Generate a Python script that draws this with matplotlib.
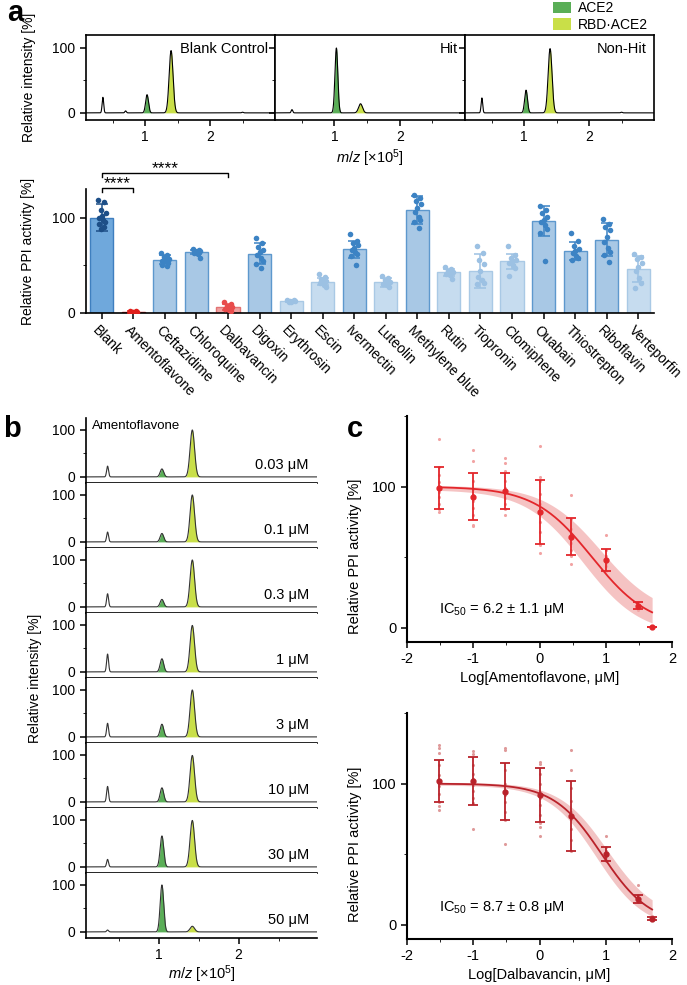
import numpy as np
import matplotlib
matplotlib.use('Agg')
import matplotlib.pyplot as plt
from matplotlib.ticker import MultipleLocator, FixedLocator
from matplotlib.patches import Patch
from matplotlib.transforms import ScaledTranslation

plt.rcParams['font.family'] = ['Liberation Sans', 'DejaVu Sans']
plt.rcParams['font.size'] = 10
plt.rcParams['mathtext.fontset'] = 'custom'
plt.rcParams['mathtext.rm'] = 'Liberation Sans'
plt.rcParams['mathtext.it'] = 'Liberation Sans:italic'
plt.rcParams['axes.unicode_minus'] = False
plt.rcParams['axes.linewidth'] = 1.2
plt.rcParams['xtick.major.size'] = 4
plt.rcParams['ytick.major.size'] = 4
plt.rcParams['xtick.minor.size'] = 2.5
plt.rcParams['ytick.minor.size'] = 2.5
plt.rcParams['xtick.major.width'] = 1.1
plt.rcParams['ytick.major.width'] = 1.1

# ---------------- data ----------------
# panel a (top): spectra peak heights
spec_titles = ['Blank Control', 'Hit', 'Non-Hit']
spec_minor_pos = [0.35, 0.70, 2.50]
spec_minor_h = [[24, 3, 1], [5, 0, 0], [23, 0, 1]]
spec_ace2_pos = 1.03
spec_ace2_h = [28, 100, 35]
spec_rbd_pos = 1.40
spec_rbd_h = [96, 14, 99]

# panel a (bottom): relative PPI activity
compounds = ['Blank', 'Amentoflavone', 'Ceftazidime', 'Chloroquine', 'Dalbavancin',
             'Digoxin', 'Erythrosin', 'Escin', 'Ivermectin', 'Luteolin', 'Methylene blue',
             'Rutin', 'Tiopronin', 'Clomiphene', 'Ouabain', 'Thiostrepton', 'Riboflavin',
             'Verteporfin']
ppi_mean = [100, 1, 56, 64, 6, 62, 13, 33, 67, 32, 108, 42.5, 44, 54, 96.5, 65, 77, 46]
ppi_sd = [14, 1, 5, 2, 3, 11, 1, 4, 9, 5, 15, 3.5, 18, 8, 16, 9, 17, 14]
ppi_reps = [
    [118, 116, 108, 105, 102, 100, 98, 95, 93, 90, 88],
    [2.5, 2, 1.5, 1, 1, 0.5, 0.5, 0.3],
    [63, 61, 59, 57, 56, 55, 54, 52, 50, 49],
    [67, 66, 65, 65, 64, 63, 62, 58],
    [12, 9, 7, 6, 5, 4, 3, 2],
    [79, 73, 69, 66, 64, 61, 58, 55, 51, 47],
    [14, 13.5, 13, 12.5, 12, 12],
    [41, 38, 36, 34, 33, 31, 29, 27],
    [83, 76, 73, 71, 68, 66, 64, 62, 60, 50],
    [39, 37, 35, 33, 32, 30, 29, 27],
    [124, 121, 117, 114, 110, 106, 101, 98, 95, 89],
    [48, 46, 44, 43, 42, 41, 40, 36],
    [70, 63, 56, 51, 44, 38, 35, 31, 30],
    [70, 61, 58, 56, 54, 52, 50, 47, 39],
    [112, 108, 105, 101, 98, 95, 92, 88, 84, 55],
    [84, 75, 70, 67, 65, 63, 60, 58, 56],
    [99, 93, 90, 87, 80, 74, 68, 64, 61, 53],
    [62, 59, 57, 52, 48, 44, 37, 31, 26],
]
ppi_group = ['blank', 'hit', 'mid', 'mid', 'hit2', 'mid', 'light', 'light', 'mid', 'light',
             'mid', 'light', 'light', 'light', 'mid', 'mid', 'mid', 'light']

# panel b: amentoflavone titration spectra
conc_labels = ['0.03 μM', '0.1 μM', '0.3 μM', '1 μM', '3 μM', '10 μM', '30 μM', '50 μM']
b_small_pos = 0.36
b_small_h = [23, 21, 28, 38, 29, 33, 16, 4]
b_ace2_pos = 1.04
b_ace2_h = [17, 18, 16, 28, 27, 30, 66, 100]
b_rbd_pos = 1.42
b_rbd_h = [100, 100, 100, 99, 100, 99, 99, 12]

# panel c: dose response
log_conc = [-1.52, -1.0, -0.52, 0.0, 0.48, 1.0, 1.48, 1.70]
amento_mean = [99, 93, 97, 82, 64.5, 48, 15.7, 0.7]
amento_sd = [15, 16.5, 13, 22.5, 13, 7.7, 2.3, 0]
amento_reps = [
    [134, 114, 108, 103, 99, 96, 93, 88, 84, 82],
    [126, 118, 104, 98, 94, 90, 85, 80, 73, 72],
    [120, 117, 111, 104, 99, 96, 92, 88, 84, 80],
    [129, 107, 104, 95, 88, 82, 75, 68, 59, 53],
    [94, 77, 70, 66, 63, 60, 55, 51, 45],
    [66, 55, 51, 48, 46, 44, 40],
    [18, 17, 16, 15, 14, 13],
    [1, 0.8, 0.6, 0.5, 0.5],
]
amento_fit = dict(top=100, bottom=0, ic50=6.2, hill=1.0)
amento_band = [dict(top=101, bottom=8, ic50=8.5, hill=1.0), dict(top=98, bottom=-5, ic50=4.5, hill=1.0)]

dalba_mean = [102, 101.7, 94.3, 92, 77, 50.4, 18.4, 4.3]
dalba_sd = [15, 17, 20, 19, 25, 5, 2.6, 1]
dalba_reps = [
    [127, 125, 122, 113, 106, 101, 98, 93, 87, 84, 81],
    [123, 121, 113, 107, 103, 99, 95, 90, 86, 68],
    [125, 124, 110, 100, 95, 92, 87, 80, 74, 57],
    [115, 114, 107, 100, 94, 90, 85, 78, 72, 69, 63],
    [124, 110, 97, 88, 80, 75, 68, 60, 52],
    [63, 55, 52, 50, 48, 46, 45],
    [28, 21, 19, 18, 17, 16],
    [6, 5, 4.5, 4, 3.5],
]
dalba_fit = dict(top=100, bottom=0, ic50=8.7, hill=1.2)
dalba_band = [dict(top=101, bottom=5, ic50=10.5, hill=1.2), dict(top=99, bottom=-3, ic50=7.2, hill=1.2)]

# ---------------- style ----------------
W, H = 687, 985
fig = plt.figure(figsize=(W / 100, H / 100), dpi=100)


def rect(x0, y0, x1, y1):
    return [x0 / W, 1 - y1 / H, (x1 - x0) / W, (y1 - y0) / H]


GREEN = '#5aae57'
YGREEN = '#c9df48'
SIG_SMALL, SIG_ACE2, SIG_RBD = 0.012, 0.022, 0.03


def gauss(x, mu, h, s):
    return h * np.exp(-0.5 * ((x - mu) / s) ** 2)


mz = np.linspace(0.09, 3.0, 2000)

# ---------------- panel a top ----------------
xs = [86, 275, 465, 654]
for i in range(3):
    ax = fig.add_axes(rect(xs[i], 35, xs[i + 1], 120))
    ace = gauss(mz, spec_ace2_pos, spec_ace2_h[i], SIG_ACE2)
    rbd = gauss(mz, spec_rbd_pos, spec_rbd_h[i], SIG_RBD)
    tot = ace + rbd
    for p, h in zip(spec_minor_pos, spec_minor_h[i]):
        tot = tot + gauss(mz, p, h, SIG_SMALL)
    ax.fill_between(mz, 0, ace, where=ace > 0.3, color=GREEN, lw=0)
    ax.fill_between(mz, 0, rbd, where=rbd > 0.3, color=YGREEN, lw=0)
    ax.plot(mz, tot, color='black', lw=0.8)
    ax.set_xlim(0.09, 3.0)
    ax.set_ylim(-11, 120)
    ax.xaxis.set_major_locator(FixedLocator([1, 2]))
    ax.xaxis.set_minor_locator(FixedLocator([0.5, 1.5, 2.5]))
    ax.yaxis.set_major_locator(FixedLocator([0, 100]))
    ax.yaxis.set_minor_locator(FixedLocator([50]))
    ax.tick_params(which='both', direction='out', labelsize=10)
    ax.text(0.962, 0.835, spec_titles[i], transform=ax.transAxes, ha='right', va='center',
            fontsize=10.5)
    if i == 0:
        ax.set_ylabel('Relative intensity [%]', fontsize=10)
        ax.yaxis.set_label_coords(-0.267, 0.5)
    else:
        ax.tick_params(axis='y', labelleft=False)
    if i == 1:
        ax.set_xlabel(r'$m/z$ [×10$^5$]', fontsize=10.5, labelpad=2)

fig.legend(handles=[Patch(facecolor=GREEN, label='ACE2'),
                    Patch(facecolor=YGREEN, label='RBD·ACE2')],
           loc='upper left', bbox_to_anchor=(553 / W, 1 - 1 / H), frameon=False,
           fontsize=10, handlelength=1.3, handleheight=0.85, handletextpad=0.5,
           labelspacing=0.2, borderaxespad=0, borderpad=0)

# ---------------- panel a bottom (bars) ----------------
colors = {
    'blank': ('#6fa8dc', '#3f7fbf', '#1d4f88'),
    'hit': ('#e8312c', '#d42020', '#e0201c'),
    'hit2': ('#f0a0a0', '#e27474', '#e84c4c'),
    'mid': ('#a8c8e5', '#5d98cd', '#3c83c4'),
    'light': ('#c6dcef', '#a9c9e5', '#9cc1e3'),
}
jit = [-0.12, 0.08, -0.04, 0.12, 0.0, -0.08, 0.04, 0.10, -0.10, 0.06, -0.02]

axb = fig.add_axes(rect(86, 189, 654, 313))
xpos = np.arange(len(compounds))
for i, (m, sd, reps, g) in enumerate(zip(ppi_mean, ppi_sd, ppi_reps, ppi_group)):
    fc, ec, dc = colors[g]
    axb.bar(xpos[i], m, width=0.73, color=fc, edgecolor=ec, linewidth=1.0, zorder=2)
    axb.errorbar(xpos[i], m, yerr=sd, fmt='none', ecolor=dc, elinewidth=1.1, capsize=4,
                 capthick=1.1, zorder=3)
    axb.scatter(xpos[i] + np.array(jit[:len(reps)]), reps, s=16, color=dc, zorder=4,
                linewidths=0)
axb.set_xlim(-0.5, len(compounds) - 0.5)
axb.set_ylim(0, 130)
axb.spines['top'].set_visible(False)
axb.spines['right'].set_visible(False)
axb.set_xticks(xpos)
axb.set_xticklabels(compounds, rotation=-45, ha='left', va='center', rotation_mode='anchor',
                    fontsize=10)
axb.tick_params(axis='x', pad=7)
shift = ScaledTranslation(-7 / 100, 0, fig.dpi_scale_trans)
for lbl in axb.get_xticklabels():
    lbl.set_transform(lbl.get_transform() + shift)
axb.yaxis.set_major_locator(FixedLocator([0, 100]))
axb.yaxis.set_minor_locator(FixedLocator([50]))
axb.set_ylabel('Relative PPI activity [%]', fontsize=10)
axb.yaxis.set_label_coords(-0.09, 0.5)
# significance brackets
for (x0, x1, yb) in [(0, 4, 146.5), (0, 1, 131)]:
    axb.plot([x0, x0, x1, x1], [yb - 4, yb, yb, yb - 4], color='black', lw=1.0,
             clip_on=False)
    axb.text((x0 + x1) / 2, yb - 3.5, '****', ha='center', va='bottom', fontsize=12.5,
             clip_on=False)

# ---------------- panel b ----------------
top0 = 418
rowh = 65
mzb = np.linspace(0.09, 2.98, 2000)
for r in range(len(conc_labels)):
    ax = fig.add_axes(rect(86, top0 + r * rowh, 317, top0 + (r + 1) * rowh))
    ace = gauss(mzb, b_ace2_pos, b_ace2_h[r], SIG_ACE2)
    rbd = gauss(mzb, b_rbd_pos, b_rbd_h[r], 0.028)
    tot = ace + rbd + gauss(mzb, b_small_pos, b_small_h[r], SIG_SMALL)
    ax.fill_between(mzb, 0, ace, where=ace > 0.3, color=GREEN, lw=0)
    ax.fill_between(mzb, 0, rbd, where=rbd > 0.3, color=YGREEN, lw=0)
    ax.plot(mzb, tot, color='#333333', lw=0.8)
    ax.set_xlim(0.09, 2.98)
    ax.set_ylim(-13, 125.5)
    ax.spines['top'].set_visible(False)
    ax.spines['right'].set_visible(False)
    ax.xaxis.set_major_locator(FixedLocator([1, 2]))
    ax.xaxis.set_minor_locator(FixedLocator([0.5, 1.5, 2.5]))
    ax.yaxis.set_major_locator(FixedLocator([0, 100]))
    ax.yaxis.set_minor_locator(FixedLocator([50]))
    ax.tick_params(which='both', direction='out', labelsize=10)
    ax.text(0.965, 0.27, conc_labels[r], transform=ax.transAxes, ha='right', va='center',
            fontsize=10.5)
    if r == 0:
        ax.text(0.025, 0.88, 'Amentoflavone', transform=ax.transAxes, ha='left',
                va='center', fontsize=9.5)
    if r < len(conc_labels) - 1:
        ax.tick_params(axis='x', labelbottom=False)
    else:
        ax.set_xlabel(r'$m/z$ [×10$^5$]', fontsize=10.5, labelpad=1)
fig.text(35 / W, 1 - 678 / H, 'Relative intensity [%]', rotation=90, ha='center',
         va='center', fontsize=10)


# ---------------- panel c ----------------
def logistic(x, top, bottom, ic50, hill):
    return bottom + (top - bottom) / (1 + (10 ** x / ic50) ** hill)


xfit = np.linspace(log_conc[0], log_conc[-1], 300)
cpanels = [
    (416, 642, amento_mean, amento_sd, amento_reps, amento_fit, amento_band,
     '#e3262b', '#f2a3a3', '#f4b9b9', 'Log[Amentoflavone, μM]',
     r'IC$_{50}$ = 6.2 ± 1.1 μM', 13, 0.38),
    (713, 939, dalba_mean, dalba_sd, dalba_reps, dalba_fit, dalba_band,
     '#b9222a', '#df9a9a', '#f0baba', 'Log[Dalbavancin, μM]',
     r'IC$_{50}$ = 8.7 ± 0.8 μM', 12, 0.42),
]
for (y0, y1, mean, sd, reps, fit, band, col, rcol, bcol, xl, ictext, icy, lab_y) in cpanels:
    ax = fig.add_axes(rect(407, y0, 672, y1))
    ax.fill_between(xfit, logistic(xfit, **band[1]), logistic(xfit, **band[0]),
                    color=bcol, lw=0, alpha=0.85, zorder=1)
    ax.plot(xfit, logistic(xfit, **fit), color=col, lw=1.3, zorder=3)
    for xc, rr in zip(log_conc, reps):
        ax.scatter([xc] * len(rr), rr, s=5, color=rcol, linewidths=0, zorder=2)
    ax.errorbar(log_conc, mean, yerr=sd, fmt='o', ms=3.5, color=col, ecolor=col,
                elinewidth=1.3, capsize=3.5, capthick=1.3, zorder=4)
    ax.set_xlim(-2, 2)
    ax.set_ylim(-10, 150)
    ax.spines['top'].set_visible(False)
    ax.spines['right'].set_visible(False)
    ax.spines['left'].set_linewidth(1.5)
    ax.spines['bottom'].set_linewidth(1.5)
    ax.xaxis.set_major_locator(MultipleLocator(1))
    ax.xaxis.set_minor_locator(MultipleLocator(0.5))
    ax.yaxis.set_major_locator(FixedLocator([0, 100]))
    ax.yaxis.set_minor_locator(FixedLocator([50, 150]))
    ax.tick_params(which='both', direction='out', labelsize=10.5)
    ax.set_xlabel(xl, fontsize=10.5, labelpad=3)
    ax.set_ylabel('Relative PPI activity [%]', fontsize=10.5)
    ax.yaxis.set_label_coords(-0.17, lab_y)
    ax.text(-1.52, icy, ictext, ha='left', va='center', fontsize=10.5)

# panel letters
fig.text(7 / W, 1 - 21 / H, 'a', fontsize=21, fontweight='bold', va='baseline')
fig.text(3 / W, 1 - 437 / H, 'b', fontsize=21, fontweight='bold', va='baseline')
fig.text(347 / W, 1 - 437 / H, 'c', fontsize=21, fontweight='bold', va='baseline')

fig.savefig('out.png', dpi=100)
